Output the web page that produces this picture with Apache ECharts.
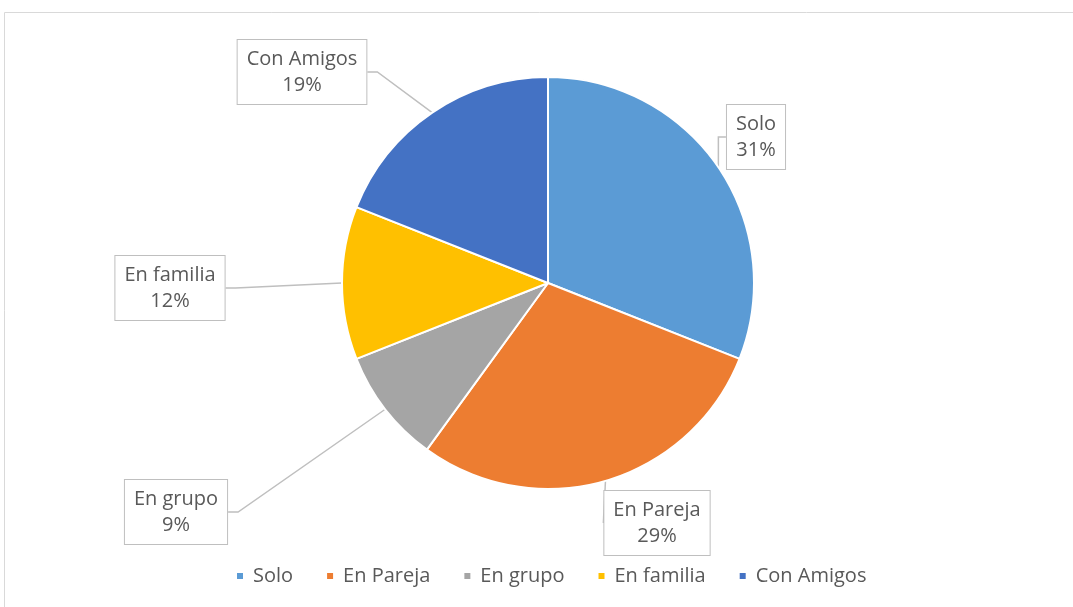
<!DOCTYPE html>
<html>
<head>
<meta charset="utf-8">
<script src="https://cdn.jsdelivr.net/npm/echarts@6/dist/echarts.min.js"></script>
<style>
  html, body { margin: 0; padding: 0; background: #fff; }
  #chart { width: 1073px; height: 607px; }
</style>
</head>
<body>
<div id="chart"></div>
<script>
// datos
var categories = ["Solo", "En Pareja", "En grupo", "En familia", "Con Amigos"];
var values = [31, 29, 9, 12, 19];
var colors = ["#5B9BD5", "#ED7D31", "#A5A5A5", "#FFC000", "#4472C4"];

// centro de cada caja de etiqueta (px)
var labelPos = [[756, 137], [657, 523], [176, 512], [170, 288], [302, 72]];

var chart = echarts.init(document.getElementById("chart"));

var option = {
  animation: false,
  color: colors,
  graphic: [{
    type: "rect",
    shape: { x: 4.5, y: 12.5, width: 1200, height: 700 },
    style: { fill: "none", stroke: "#d9d9d9", lineWidth: 1 }
  }],
  legend: {
    bottom: 16,
    left: 230,
    icon: "rect",
    itemWidth: 8,
    itemHeight: 8,
    itemGap: 32,
    textStyle: { fontFamily: "Open Sans", fontSize: 20, color: "#595959", padding: [0, 0, 0, 4] },
    data: categories
  },
  series: [{
    type: "pie",
    center: [548, 283],
    radius: 206,
    startAngle: 90,
    clockwise: true,
    itemStyle: { borderColor: "#fff", borderWidth: 2 },
    label: {
      show: true,
      position: "outside",
      formatter: function (p) { return p.name + "\n" + p.value + "%"; },
      fontFamily: "Open Sans",
      fontSize: 20,
      lineHeight: 26,
      color: "#595959",
      backgroundColor: "#fff",
      borderColor: "#bfbfbf",
      borderWidth: 1,
      padding: [6, 9, 6, 9],
      align: "center"
    },
    labelLine: {
      show: true,
      length: 20,
      length2: 10,
      smooth: false,
      lineStyle: { color: "#bfbfbf", width: 1.5 }
    },
    labelLayout: function (params) {
      var p = labelPos[params.dataIndex];
      return { x: p[0], y: p[1], align: "center", verticalAlign: "middle" };
    },
    data: categories.map(function (c, i) {
      return { name: c, value: values[i] };
    })
  }]
};

chart.setOption(option);
</script>
</body>
</html>
